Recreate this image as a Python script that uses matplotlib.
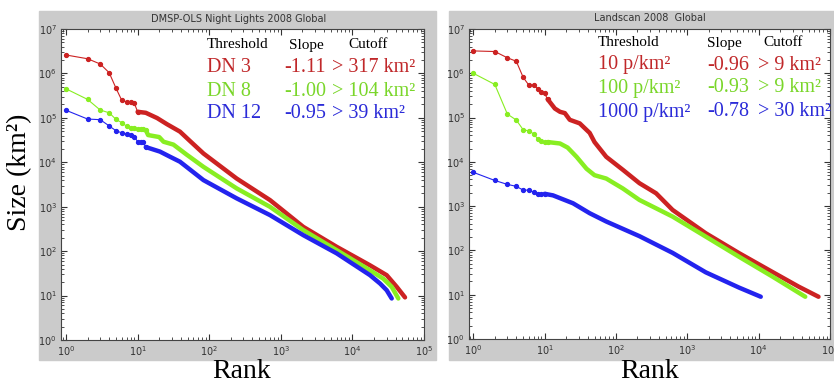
import matplotlib
matplotlib.use("Agg")
import matplotlib.pyplot as plt
from matplotlib.patches import Rectangle

# ---- data (rank, size in km2) ----
# left panel: DMSP-OLS night lights, head = individual ranks, tail = readings along the dense curve
dn3_head_r = [1, 2, 3, 4, 5, 6, 7, 8, 9, 10]
dn3_head_s = [2.6e6, 2.14e6, 1.63e6, 1.04e6, 4.6e5, 2.48e5, 2.3e5, 2.3e5, 2.12e5, 1.37e5]
dn3_tail_r = [10, 13, 18.7, 25.7, 39, 54, 83, 242, 706, 2060, 6040, 17600, 30100, 41600, 54300]
dn3_tail_s = [1.37e5, 1.3e5, 9.9e4, 7.2e4, 4.9e4, 3.0e4, 1.58e4, 4.3e3, 1.41e3, 352, 125, 48, 28.8, 15.7, 9.1]

dn8_head_r = [1, 2, 3, 4, 5, 6, 7, 8, 9, 10, 11, 12, 13]
dn8_head_s = [4.5e5, 2.6e5, 1.5e5, 1.3e5, 9.2e4, 7.8e4, 6.5e4, 6.0e4, 5.8e4, 5.7e4, 5.6e4, 5.5e4, 5.3e4]
dn8_tail_r = [13, 14, 20, 23, 31.6, 48, 83, 242, 706, 2060, 6040, 17600, 27000, 35400, 43800]
dn8_tail_s = [5.3e4, 4.1e4, 3.7e4, 2.9e4, 2.5e4, 1.5e4, 7.9e3, 2.58e3, 995, 297, 105, 37, 24, 15.7, 8.6]

dn12_head_r = [1, 2, 3, 4, 5, 6, 7, 8, 9, 10, 11, 12, 13]
dn12_head_s = [1.48e5, 9.4e4, 9.1e4, 6.6e4, 5.1e4, 4.6e4, 4.3e4, 4.2e4, 3.8e4, 2.9e4, 2.9e4, 2.85e4, 2.2e4]
dn12_tail_r = [13, 20.5, 28.4, 39, 83, 242, 706, 2060, 6040, 17600, 24300, 30100, 35400]
dn12_tail_s = [2.2e4, 1.74e4, 1.33e4, 1.03e4, 3.97e3, 1.54e3, 647, 229, 89, 28.8, 18.7, 13.2, 8.6]

# right panel: Landscan population density thresholds
p10_head_r = [1, 2, 3, 4, 5, 6, 7, 8, 9, 10, 11]
p10_head_s = [3.2e6, 3.1e6, 2.24e6, 1.87e6, 8.1e5, 5.4e5, 5.4e5, 4.5e5, 3.7e5, 3.5e5, 2.6e5]
p10_tail_r = [11, 13.9, 16.4, 19.2, 22.5, 31, 42.8, 50, 73, 125, 213, 365, 622, 1815, 5300, 15400, 36400, 69000]
p10_tail_s = [2.6e5, 1.6e5, 1.35e5, 1.26e5, 8.9e4, 7.4e4, 4.5e4, 2.8e4, 1.3e4, 6.6e3, 3.3e3, 1.95e3, 820, 244, 87, 33, 15.2, 9]

p100_head_r = [1, 2, 3, 4, 5, 6, 7, 8, 9, 10, 11]
p100_head_s = [1.0e6, 5.6e5, 1.2e5, 8.8e4, 5.3e4, 5.0e4, 4.3e4, 3.3e4, 2.9e4, 2.8e4, 2.8e4]
p100_tail_r = [11, 16.4, 21, 28, 38.6, 50, 73, 125, 213, 622, 1815, 5300, 15400, 45000]
p100_tail_s = [2.8e4, 2.6e4, 2.1e4, 1.3e4, 7.0e3, 5.0e3, 4.2e3, 2.5e3, 1.38e3, 580, 205, 72, 26, 9]

p1000_head_r = [1, 2, 3, 4, 5, 6, 7, 8, 9, 10]
p1000_head_s = [5.8e3, 3.8e3, 3.1e3, 2.8e3, 2.3e3, 2.3e3, 2.05e3, 1.9e3, 1.9e3, 1.9e3]
p1000_tail_r = [10, 13.1, 25, 42.8, 73, 213, 622, 1815, 5300, 10700]
p1000_tail_s = [1.9e3, 1.75e3, 1.16e3, 692, 450, 210, 88, 32, 14.5, 9]

headers = ["Threshold", "Slope", "Cutoff"]
left_rows = [["DN 3", "-1.11", "> 317 km\u00b2"],
             ["DN 8", "-1.00", "> 104 km\u00b2"],
             ["DN 12", "-0.95", "> 39 km\u00b2"]]
right_rows = [["10 p/km\u00b2", "-0.96", "> 9 km\u00b2"],
              ["100 p/km\u00b2", "-0.93", "> 9 km\u00b2"],
              ["1000 p/km\u00b2", "-0.78", "> 30 km\u00b2"]]

line_cols = ["#cc2222", "#88ee22", "#2323ee"]
text_cols = ["#c0282a", "#7ad62a", "#2b2bd8"]

W, H = 834, 384


def px(x, y):
    """pixel position -> figure fraction"""
    return x / W, 1 - y / H


fig = plt.figure(figsize=(W / 100, H / 100), dpi=100)

# gray panel backgrounds (behind the axes)
for x0, x1 in [(39, 436), (449, 834)]:
    fig.patches.append(Rectangle(px(x0, 360), (x1 - x0) / W, 349 / H,
                                 transform=fig.transFigure, color="#cbcbcb", zorder=-5))

axL = fig.add_axes([61 / W, 1 - 340 / H, (424 - 61) / W, 311 / H])
axR = fig.add_axes([469 / W, 1 - 339 / H, (830 - 469) / W, 310 / H])

left_series = [(dn3_head_r, dn3_head_s, dn3_tail_r, dn3_tail_s),
               (dn8_head_r, dn8_head_s, dn8_tail_r, dn8_tail_s),
               (dn12_head_r, dn12_head_s, dn12_tail_r, dn12_tail_s)]
right_series = [(p10_head_r, p10_head_s, p10_tail_r, p10_tail_s),
                (p100_head_r, p100_head_s, p100_tail_r, p100_tail_s),
                (p1000_head_r, p1000_head_s, p1000_tail_r, p1000_tail_s)]

for ax, series, xlo in [(axL, left_series, 0.85), (axR, right_series, 0.87)]:
    for (hr, hs, tr, ts), c in zip(series, line_cols):
        ax.plot(hr, hs, "-o", color=c, lw=0.8, ms=2.8, mec=c)
        ax.plot(tr, ts, "-", color=c, lw=3.2, solid_capstyle="round")
    ax.set_xscale("log")
    ax.set_yscale("log")
    ax.set_xlim(xlo, 1e5)
    ax.set_ylim(1, 1e7)
    ax.set_facecolor("white")
    ax.tick_params(which="both", direction="in", top=True, right=True,
                   labelsize=7, colors="#333333", pad=3)
    ax.tick_params(which="major", length=4)
    ax.tick_params(which="minor", length=2)
    for sp in ax.spines.values():
        sp.set_color("#444444")
        sp.set_linewidth(0.8)

fig.text(*px(239, 19), "DMSP-OLS Night Lights 2008 Global", fontsize=7,
         ha="center", va="center", color="#333333")
fig.text(*px(650, 18), "Landscan 2008  Global", fontsize=7,
         ha="center", va="center", color="#333333")

serif = "Liberation Serif"
# table text: header x, row x, row y
tables = [([207, 289, 348], [207, 284, 332], [45, 68, 91, 114], left_rows),
          ([598, 707, 763], [598, 707, 758], [43, 65, 88, 112], right_rows)]
for hx, rx, ys, rows in tables:
    for x, h in zip(hx, headers):
        fig.text(*px(x, ys[0]), h, family=serif, fontsize=11, va="center")
    for row, y, c in zip(rows, ys[1:], text_cols):
        for x, t in zip(rx, row):
            fig.text(*px(x, y), t, family=serif, fontsize=14.5, va="center", color=c)

fig.text(*px(20, 172), "Size (km\u00b2)", family=serif, fontsize=20,
         rotation=90, ha="center", va="center")
fig.text(*px(242, 371), "Rank", family=serif, fontsize=20, ha="center", va="center")
fig.text(*px(650, 371), "Rank", family=serif, fontsize=20, ha="center", va="center")

fig.savefig("out.png", dpi=100)
